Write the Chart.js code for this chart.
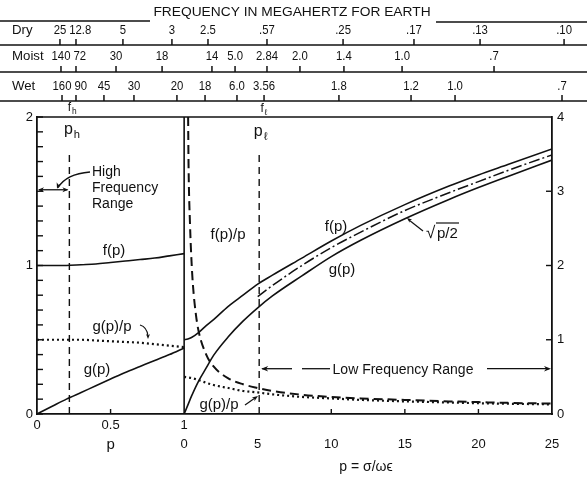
<!DOCTYPE html>
<html><head><meta charset="utf-8">
<script src="https://cdn.jsdelivr.net/npm/chart.js@4.4.1/dist/chart.umd.min.js"></script>
<style>html,body{margin:0;padding:0;background:#fff;}canvas{display:block;}</style>
</head><body>
<canvas id="c" width="587" height="479"></canvas>
<script>
// ---------------- data ----------------
// left panel: p from 0 to 1, left axis (0..2)
const leftP      = [0, 0.1, 0.2, 0.3, 0.4, 0.5, 0.6, 0.7, 0.8, 0.9, 1.0];
const leftF      = [1.00, 1.00, 1.00, 1.005, 1.01, 1.02, 1.03, 1.04, 1.05, 1.065, 1.08];
const leftG      = [0, 0.05, 0.10, 0.145, 0.19, 0.235, 0.28, 0.32, 0.36, 0.40, 0.445];
const leftGoverP = [0.50, 0.50, 0.50, 0.50, 0.495, 0.49, 0.485, 0.48, 0.47, 0.46, 0.45];

// right panel: p from 0 to 25, right axis (0..4)
const rightP = [0, 0.25, 0.5, 1, 1.5, 2, 3, 4, 5, 6, 8, 10, 12, 15, 18, 20, 22, 25];
const rightF = [1.00, 1.01, 1.03, 1.10, 1.19, 1.27, 1.45, 1.60, 1.75, 1.87, 2.10, 2.33, 2.54, 2.82, 3.07, 3.22, 3.36, 3.57];
const rightG = [0, 0.12, 0.24, 0.45, 0.62, 0.79, 1.04, 1.25, 1.43, 1.59, 1.86, 2.12, 2.34, 2.63, 2.89, 3.05, 3.20, 3.42];
const rootP  = [5, 6, 8, 10, 12, 15, 18, 20, 22, 25];
const rootV  = [1.58, 1.73, 2.00, 2.24, 2.45, 2.74, 2.98, 3.13, 3.28, 3.49];
const fOverPP = [0.27, 0.3, 0.4, 0.5, 0.6, 0.8, 1, 1.5, 2, 3, 4, 5, 6, 8, 10, 12, 15, 18, 20, 22, 25];
const fOverPV = [4.0, 3.35, 2.55, 2.06, 1.73, 1.34, 1.10, 0.80, 0.64, 0.48, 0.40, 0.35, 0.31, 0.26, 0.23, 0.21, 0.19, 0.17, 0.16, 0.15, 0.14];
const gOverPP = [0, 0.5, 1, 1.5, 2, 3, 4, 5, 6, 8, 10, 12, 15, 18, 20, 22, 25];
const gOverPV = [0.50, 0.485, 0.455, 0.42, 0.39, 0.35, 0.31, 0.29, 0.265, 0.23, 0.21, 0.19, 0.17, 0.155, 0.145, 0.138, 0.13];

const pH = 0.22, pL = 5.1, pLineTop = 1.77;

// tick labels
const leftTickP = [0, 0.5, 1];            const leftTickLabels = ['0', '0.5', '1'];
const rightTickP = [0, 5, 10, 15, 20, 25]; const rightTickLabels = ['0', '5', '10', '15', '20', '25'];
const yLeftTicks = [0, 1, 2];
const yRightTicks = [0, 1, 2, 3, 4];

// frequency scales (MHz), positions on the combined p axis (left panel 0..10, right panel 10..35)
const dryLabels   = ['25', '12.8', '5', '3', '2.5', '.57', '.25', '.17', '.13', '.10'];
const dryPos      = [1.56, 2.65, 5.84, 9.17, 11.62, 15.63, 20.80, 25.62, 30.11, 35.82];
const moistLabels = ['140', '72', '30', '18', '14', '5.0', '2.84', '2.0', '1.4', '1.0', '.7'];
const moistPos    = [1.63, 2.65, 5.37, 8.50, 11.89, 13.46, 15.63, 17.87, 20.86, 24.81, 31.06];
const wetLabels   = ['160', '90', '45', '30', '20', '18', '6.0', '3.56', '1.8', '1.2', '1.0', '.7'];
const wetPos      = [1.70, 2.65, 4.55, 6.59, 9.51, 11.42, 13.59, 15.43, 20.52, 25.42, 28.41, 35.68];

// ---------------- mapping of the two panels onto one axis ----------------
const U_LEFT = 10;
const uL = p => p * U_LEFT;
const uR = p => U_LEFT + p;
const pts = (ps, vs, f) => ps.map((p, i) => ({x: f(p), y: vs[i]}));

const FONT = "'Liberation Sans', Arial, sans-serif";
const K = '#111';
Chart.defaults.color = K;
Chart.defaults.font.family = FONT;
Chart.defaults.font.size = 13;

function line(extra) {
  return Object.assign({showLine: true, pointRadius: 0, borderColor: K, borderWidth: 1.6,
    fill: false, cubicInterpolationMode: 'monotone'}, extra);
}
const straight = {cubicInterpolationMode: 'default', tension: 0};

const datasets = [
  line({label: 'f(p)', data: pts(leftP, leftF, uL), yAxisID: 'y'}),
  line({label: 'g(p)', data: pts(leftP, leftG, uL), yAxisID: 'y'}),
  line({label: 'g(p)/p', data: pts(leftP, leftGoverP, uL), yAxisID: 'y', borderWidth: 2.2, borderDash: [2, 3]}),
  line({label: 'f(p) R', data: pts(rightP, rightF, uR), yAxisID: 'y2'}),
  line({label: 'g(p) R', data: pts(rightP, rightG, uR), yAxisID: 'y2'}),
  line({label: 'sqrt(p/2)', data: pts(rootP, rootV, uR), yAxisID: 'y2', borderWidth: 1.5, borderDash: [11, 3, 2, 3]}),
  line({label: 'f(p)/p', data: pts(fOverPP, fOverPV, uR), yAxisID: 'y2', borderWidth: 2, borderDash: [9, 5]}),
  line({label: 'g(p)/p R', data: pts(gOverPP, gOverPV, uR), yAxisID: 'y2', borderWidth: 2.2, borderDash: [2, 3]}),
  line(Object.assign({label: 'boundary', data: [{x: uL(1), y: 0}, {x: uL(1), y: 2}], yAxisID: 'y'}, straight)),
  line(Object.assign({label: 'ph', data: [{x: uL(pH), y: 0}, {x: uL(pH), y: pLineTop}], yAxisID: 'y', borderWidth: 1.4, borderDash: [7, 5]}, straight)),
  line(Object.assign({label: 'pl', data: [{x: uR(pL), y: 0}, {x: uR(pL), y: pLineTop}], yAxisID: 'y', borderWidth: 1.4, borderDash: [7, 5]}, straight)),
];

// ---------------- drawing helpers ----------------
function txt(ctx, s, x, y, size, align, sx) {
  ctx.save();
  ctx.font = size + 'px ' + FONT;
  ctx.fillStyle = K;
  ctx.textAlign = align || 'center';
  ctx.textBaseline = 'middle';
  ctx.translate(x, y);
  ctx.scale(sx || 1, 1);
  ctx.fillText(s, 0, 0);
  ctx.restore();
}
function width(ctx, s, size, sx) {
  ctx.save(); ctx.font = size + 'px ' + FONT; const w = ctx.measureText(s).width * (sx || 1); ctx.restore(); return w;
}
function seg(ctx, x1, y1, x2, y2, w) {
  ctx.save(); ctx.strokeStyle = K; ctx.lineWidth = w || 1.4; ctx.beginPath();
  ctx.moveTo(x1, y1); ctx.lineTo(x2, y2); ctx.stroke(); ctx.restore();
}
function head(ctx, x, y, ang, len) {
  len = len || 7;
  ctx.save(); ctx.fillStyle = K; ctx.translate(x, y); ctx.rotate(ang);
  ctx.beginPath(); ctx.moveTo(0, 0); ctx.lineTo(-len, -len * 0.4); ctx.lineTo(-len * 0.7, 0); ctx.lineTo(-len, len * 0.4);
  ctx.closePath(); ctx.fill(); ctx.restore();
}
function sub(ctx, main, s, x, y, size) {
  const w = width(ctx, main, size);
  txt(ctx, main, x - 3, y, size, 'center');
  txt(ctx, s, x - 3 + w / 2 + 1, y + size * 0.3, size * 0.7, 'left');
}

const overlay = {
  id: 'overlay',
  afterDraw(chart) {
    const ctx = chart.ctx;
    const a = chart.chartArea;
    const xs = chart.scales.x, yl = chart.scales.y, yr = chart.scales.y2;

    // frame top line
    seg(ctx, a.left, a.top, a.right, a.top, 1.6);
    // inside ticks on the left axis, every 0.1
    for (let i = 0; i <= 20; i++) {
      const y = yl.getPixelForValue(i / 10);
      seg(ctx, a.left, y, a.left + 6, y, 1.4);
    }
    // inside ticks on the right axis
    [1, 2, 3].forEach(v => { const y = yr.getPixelForValue(v); seg(ctx, a.right - 6, y, a.right, y, 1.4); });
    // inside ticks on the bottom axis
    [uL(0.5), uR(10), uR(15), uR(20)].forEach(u => { const x = xs.getPixelForValue(u); seg(ctx, x, a.bottom, x, a.bottom - 5, 1.4); });

    // ---- header: frequency scales ----
    txt(ctx, 'FREQUENCY IN MEGAHERTZ FOR EARTH', 292, 12, 13.5, 'center', 1.02);
    seg(ctx, 0, 21, 150, 21, 1.4);
    seg(ctx, 436, 22, 587, 22, 1.4);
    const rows = [
      {name: 'Dry', labels: dryLabels, pos: dryPos, lineY: 45, labelY: 30},
      {name: 'Moist', labels: moistLabels, pos: moistPos, lineY: 72, labelY: 56},
      {name: 'Wet', labels: wetLabels, pos: wetPos, lineY: 101, labelY: 86},
    ];
    const TS = 13.5, SX = 0.84;
    rows.forEach(r => {
      txt(ctx, r.name, 12, r.labelY, 13.5, 'left', 0.98);
      seg(ctx, 0, r.lineY, 587, r.lineY, 1.5);
      let prevRight = 12 + width(ctx, r.name, 13.5, 0.98) + 2;
      r.pos.forEach((u, i) => {
        const x = xs.getPixelForValue(u);
        seg(ctx, x, r.lineY, x, r.lineY - 6, 1.5);
        const w = width(ctx, r.labels[i], TS, SX);
        let cx = x;
        if (cx - w / 2 < prevRight + 3) cx = prevRight + 3 + w / 2;
        txt(ctx, r.labels[i], cx, r.labelY, TS, 'center', SX);
        prevRight = cx + w / 2;
      });
    });
    // f_h, f_l under the Wet scale
    sub(ctx, 'f', 'h', xs.getPixelForValue(uL(pH)) + 3, 108, 12);
    sub(ctx, 'f', 'ℓ', xs.getPixelForValue(uR(pL)) + 6, 109, 12);

    // ---- labels in the plot ----
    const xph = xs.getPixelForValue(uL(pH)), xpl = xs.getPixelForValue(uR(pL));
    sub(ctx, 'p', 'h', xph + 2, 130, 16);
    sub(ctx, 'p', 'ℓ', xpl + 2, 132, 16);

    // High Frequency Range
    txt(ctx, 'High', 92, 172, 14, 'left');
    txt(ctx, 'Frequency', 92, 188, 14, 'left');
    txt(ctx, 'Range', 92, 204, 14, 'left');
    const yHF = yl.getPixelForValue(1.51);
    seg(ctx, a.left + 2, yHF, xph - 2, yHF, 1.3);
    head(ctx, a.left + 1, yHF, Math.PI, 6);
    head(ctx, xph - 1, yHF, 0, 6);
    ctx.save(); ctx.strokeStyle = K; ctx.lineWidth = 1.3; ctx.beginPath();
    ctx.moveTo(90, 172); ctx.quadraticCurveTo(66, 174, 58, yHF - 2); ctx.stroke(); ctx.restore();
    head(ctx, 57, yHF - 1, 1.9, 6);

    txt(ctx, 'f(p)', 114, 251, 15, 'center');
    txt(ctx, 'g(p)', 97, 370, 15, 'center');
    txt(ctx, 'g(p)/p', 112, 327, 15, 'center');
    ctx.save(); ctx.strokeStyle = K; ctx.lineWidth = 1.2; ctx.beginPath();
    ctx.moveTo(140, 325); ctx.quadraticCurveTo(147, 327, 148, 336); ctx.stroke(); ctx.restore();
    head(ctx, 148, 339, Math.PI / 2, 5);

    txt(ctx, 'f(p)/p', 228, 235, 15, 'center');
    txt(ctx, 'f(p)', 336, 227, 15, 'center');
    txt(ctx, 'g(p)', 342, 270, 15, 'center');
    txt(ctx, 'g(p)/p', 219, 405, 15, 'center');
    seg(ctx, 245, 405, 255, 398, 1.2);
    head(ctx, 258, 396, -0.6, 6);

    // sqrt(p/2) label
    txt(ctx, '√', 426, 233, 17, 'left');
    txt(ctx, 'p/2', 437, 234, 15, 'left');
    seg(ctx, 436, 223, 459, 223, 1.2);
    seg(ctx, 423, 231, 409, 220, 1.2);
    head(ctx, 407, 218, Math.atan2(-13, -16), 5);

    // Low Frequency Range
    const yLF = yr.getPixelForValue(0.61);
    seg(ctx, xpl + 3, yLF, 292, yLF, 1.3);
    head(ctx, xpl + 2, yLF, Math.PI, 7);
    seg(ctx, 302, yLF, 330, yLF, 1.3);
    txt(ctx, 'Low Frequency Range', 403, yLF + 1, 14, 'center');
    seg(ctx, 487, yLF, a.right - 3, yLF, 1.3);
    head(ctx, a.right - 1, yLF, 0, 7);

    // axis titles
    txt(ctx, 'p', xs.getPixelForValue(uL(0.5)), 445, 15, 'center');
    txt(ctx, 'p = σ/ωϵ', 366, 467, 14, 'center');
  }
};

const noGrid = {display: false, drawTicks: false, tickLength: 0};

new Chart(document.getElementById('c'), {
  type: 'scatter',
  data: {datasets},
  options: {
    responsive: false,
    animation: false,
    devicePixelRatio: 1,
    layout: {padding: {top: 117, left: 0, right: 0, bottom: 0}},
    plugins: {legend: {display: false}, tooltip: {enabled: false}, title: {display: false}},
    scales: {
      x: {
        type: 'linear', position: 'bottom', min: 0, max: 35, weight: 1,
        grid: noGrid, border: {display: true, color: K, width: 1.8},
        afterBuildTicks: s => { s.ticks = leftTickP.map(p => ({value: uL(p)})); },
        ticks: {autoSkip: false, maxRotation: 0, padding: 4, font: {size: 13},
          callback: (v, i) => leftTickLabels[i]},
        afterFit: s => { s.height = 21; }
      },
      x2: {
        type: 'linear', position: 'bottom', min: 0, max: 35, weight: 2,
        grid: noGrid, border: {display: false},
        afterBuildTicks: s => { s.ticks = rightTickP.map(p => ({value: uR(p)})); },
        ticks: {autoSkip: false, maxRotation: 0, padding: 2, font: {size: 13},
          callback: (v, i) => rightTickLabels[i]},
        afterFit: s => { s.height = 44; }
      },
      y: {
        type: 'linear', position: 'left', min: 0, max: 2,
        grid: noGrid, border: {display: true, color: K, width: 1.8},
        afterBuildTicks: s => { s.ticks = yLeftTicks.map(v => ({value: v})); },
        ticks: {padding: 4, font: {size: 13}, callback: v => String(v)},
        afterFit: s => { s.width = 37; }
      },
      y2: {
        type: 'linear', position: 'right', min: 0, max: 4,
        grid: noGrid, border: {display: true, color: K, width: 1.8},
        afterBuildTicks: s => { s.ticks = yRightTicks.map(v => ({value: v})); },
        ticks: {padding: 5, font: {size: 13}, callback: v => String(v)},
        afterFit: s => { s.width = 35; }
      }
    }
  },
  plugins: [overlay]
});
</script>
</body></html>
